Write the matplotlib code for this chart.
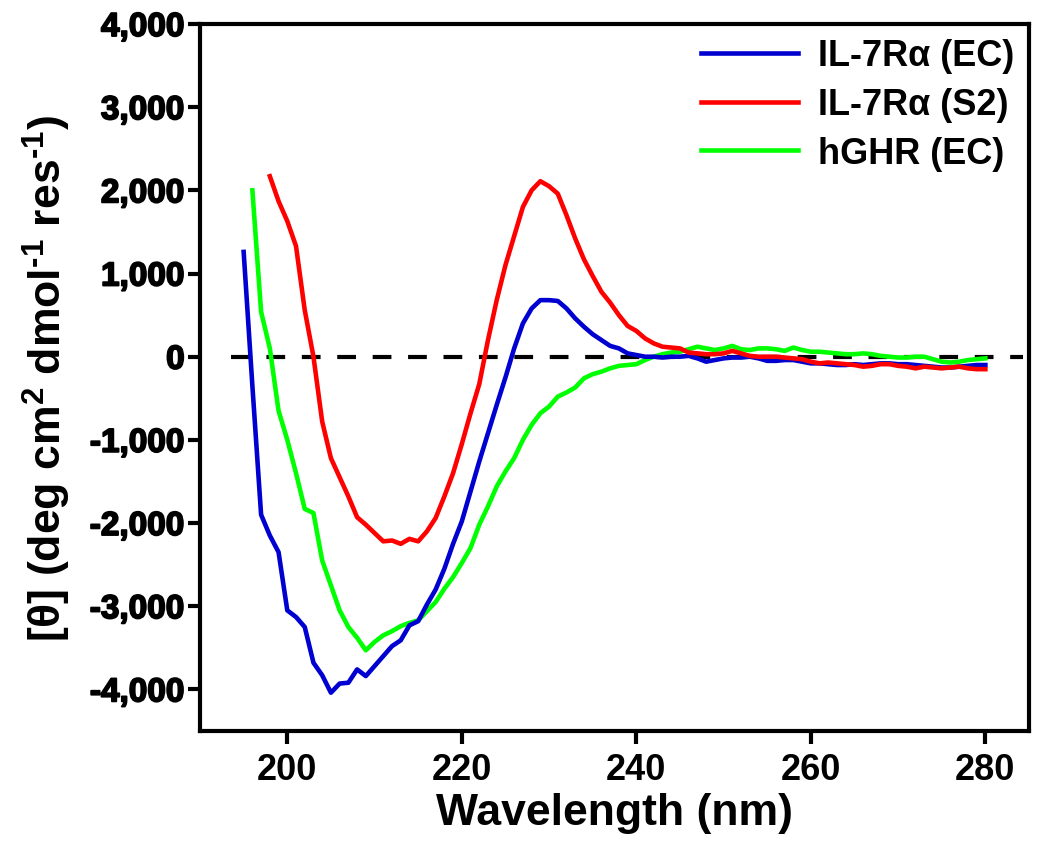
import numpy as np
import matplotlib
matplotlib.use("Agg")
import matplotlib.pyplot as plt
import matplotlib.patheffects as pe

# CD spectra, one value per nm
wl_blue = np.arange(195, 281)
il7r_ec = [1260, -350, -1900, -2150, -2350, -3050, -3130, -3250, -3680, -3830,
           -4040, -3930, -3920, -3760, -3840, -3720, -3600, -3480, -3410, -3230,
           -3180, -2980, -2800, -2550, -2250, -1980, -1620, -1260, -920, -580,
           -250, 100, 400, 580, 680, 680, 670, 580, 460, 360,
           270, 200, 130, 100, 40, 20, 0, 0, -10, 0,
           0, 10, -20, -60, -40, -20, -10, -10, 0, -20,
           -50, -50, -40, -40, -60, -80, -80, -90, -100, -100,
           -90, -100, -90, -80, -80, -90, -90, -100, -110, -120,
           -130, -130, -120, -110, -100, -100]

wl_red = np.arange(198, 281)
il7r_s2 = [2170, 1870, 1630, 1330, 560, 0, -780, -1220, -1450, -1680,
           -1930, -2020, -2120, -2220, -2210, -2250, -2190, -2220, -2100, -1940,
           -1680, -1400, -1050, -680, -330, 200, 680, 1100, 1450, 1800,
           2000, 2110, 2050, 1960, 1700, 1420, 1170, 970, 780, 650,
           500, 370, 310, 220, 160, 120, 110, 100, 50, 40,
           30, 30, 40, 70, 40, 10, 0, 0, 0, -10,
           -20, -30, -60, -80, -70, -80, -90, -100, -120, -110,
           -90, -90, -110, -120, -140, -120, -130, -140, -130, -120,
           -140, -150, -150]

wl_green = np.arange(196, 281)
hghr_ec = [2000, 540, 100, -650, -1000, -1400, -1830, -1880, -2450, -2750,
           -3050, -3250, -3380, -3530, -3430, -3350, -3300, -3240, -3200, -3170,
           -3060, -2950, -2790, -2650, -2480, -2300, -2020, -1800, -1560, -1380,
           -1220, -1000, -820, -680, -600, -480, -430, -370, -260, -210,
           -180, -140, -110, -100, -90, -40, 0, 30, 50, 60,
           90, 120, 100, 80, 100, 130, 90, 80, 100, 100,
           90, 70, 110, 80, 60, 60, 50, 40, 30, 30,
           40, 30, 10, 0, -10, -10, 0, 0, -30, -60,
           -70, -60, -40, -30, -20]

labels = ["IL-7R\u03b1 (EC)", "IL-7R\u03b1 (S2)", "hGHR (EC)"]
colors = ["#0000d0", "#ff0000", "#00ff00"]

plt.rcParams['font.family'] = ['Liberation Sans', 'DejaVu Sans']
plt.rcParams['mathtext.default'] = 'regular'

fig = plt.figure(figsize=(10.5, 8.54), dpi=100)
ax = fig.add_axes([0.1905, 0.1429, 0.7895, 0.8278])

ax.hlines(0, 193.5, 284.3, colors='black', linewidth=3, linestyles=(0, (4.5, 4)), zorder=1)
ax.plot(wl_blue, il7r_ec, color=colors[0], lw=3.3, label=labels[0], zorder=3)
ax.plot(wl_red, il7r_s2, color=colors[1], lw=3.3, label=labels[1], zorder=3)
ax.plot(wl_green, hghr_ec, color=colors[2], lw=3.3, label=labels[2], zorder=2)

ax.set_xlim(190, 285)
ax.set_ylim(-4500, 4000)
ax.set_xticks([200, 220, 240, 260, 280])
ax.set_yticks(np.arange(-4000, 4001, 1000))
ax.set_yticklabels([f"{v:,}" for v in np.arange(-4000, 4001, 1000)])

for s in ax.spines.values():
    s.set_linewidth(3)
ax.tick_params(axis='both', which='major', direction='out', length=9, width=3)
ax.tick_params(axis='y', pad=2)
ax.tick_params(axis='x', pad=6)

for t in ax.get_yticklabels():
    t.set_fontsize(24)
    t.set_fontweight('bold')
    t.set_path_effects([pe.withStroke(linewidth=1.3, foreground='black')])
for t in ax.get_xticklabels():
    t.set_fontsize(26)
    t.set_fontweight('bold')

ax.set_xlabel("Wavelength (nm)", fontsize=32, fontweight='bold', labelpad=4)
ax.set_ylabel("[\u03b8] (deg cm$^{2}$ dmol$^{\u2010 1}$ res$^{\u2010 1}$)",
              fontsize=32, fontweight='bold', labelpad=12)

leg = ax.legend(loc='upper right', frameon=False, prop={'weight': 'bold', 'size': 26},
                handlelength=2.7, handletextpad=0.55, labelspacing=0.38,
                borderaxespad=0.0, bbox_to_anchor=(1.0, 1.0))

fig.savefig("out.png", dpi=100)
